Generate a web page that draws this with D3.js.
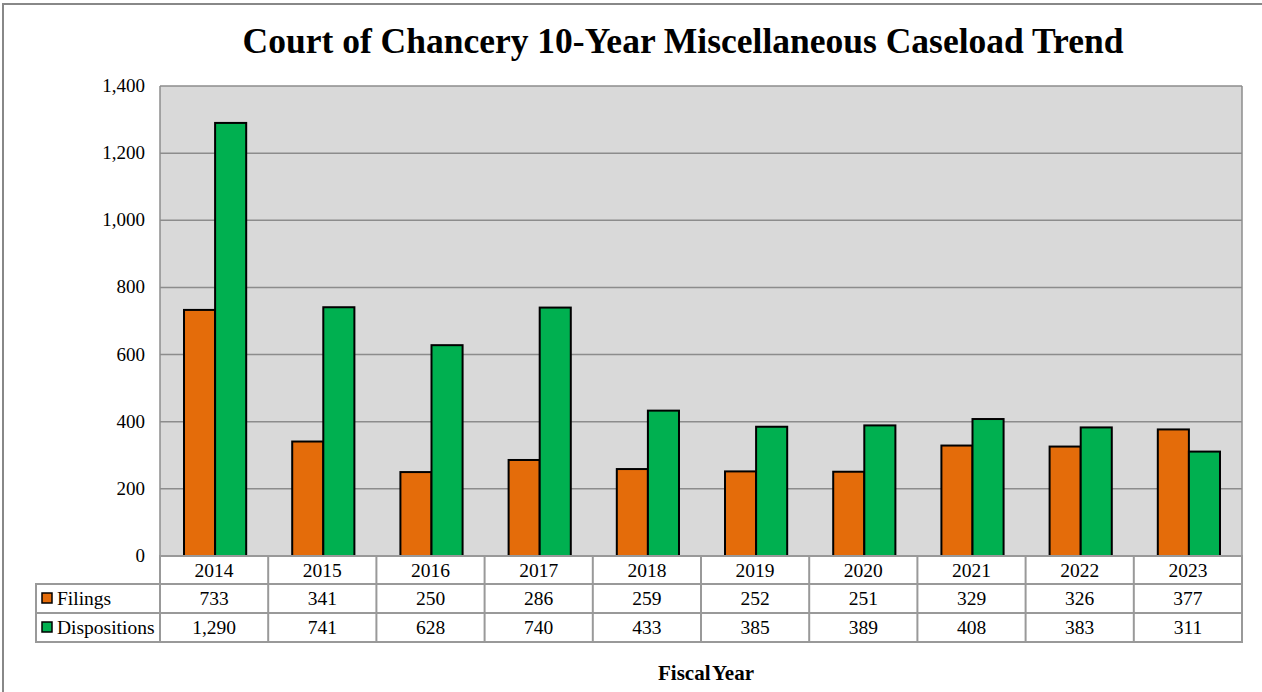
<!DOCTYPE html>
<html><head><meta charset="utf-8">
<script src="https://cdn.jsdelivr.net/npm/d3@7"></script>
<style>body{margin:0;background:#fff;}svg{display:block;}text{font-family:"Liberation Serif","Times New Roman",serif;}</style>
</head><body>
<svg id="c" width="1262" height="692"></svg>
<script>
const years = ["2014","2015","2016","2017","2018","2019","2020","2021","2022","2023"];
const filings = [733,341,250,286,259,252,251,329,326,377];
const dispositions = [1290,741,628,740,433,385,389,408,383,311];
const seriesNames = ["Filings","Dispositions"];
const seriesColors = ["#E46C0A","#00B050"];
const yTicks = [0,200,400,600,800,1000,1200,1400];

const svg = d3.select("#c");
const L = 160, R = 1242, T = 86, B = 556;
const rowH = [28, 29, 29];

svg.append("rect").attr("x",3).attr("y",4).attr("width",1270).attr("height",700)
  .attr("fill","#fff").attr("stroke","#888").attr("stroke-width",2);

svg.append("text").attr("x",683).attr("y",53).attr("text-anchor","middle")
  .attr("font-weight","bold").attr("font-size",35.5)
  .text("Court of Chancery 10-Year Miscellaneous Caseload Trend");

const x = d3.scaleBand().domain(years).range([L,R]).paddingInner(0).paddingOuter(0);
const x1 = d3.scaleBand().domain(seriesNames).range([0,x.bandwidth()]).paddingInner(0).paddingOuter(0.74);
const y = d3.scaleLinear().domain([0,1400]).range([B,T]);

svg.append("rect").attr("x",L).attr("y",T).attr("width",R-L).attr("height",B-T).attr("fill","#D9D9D9");

svg.append("g").selectAll("line").data(yTicks).join("line")
  .attr("x1",L).attr("x2",R).attr("y1",d=>y(d)).attr("y2",d=>y(d))
  .attr("stroke","#8C8C8C").attr("stroke-width",1.5);
svg.append("line").attr("x1",L).attr("x2",L).attr("y1",T).attr("y2",B).attr("stroke","#8C8C8C").attr("stroke-width",1.5);
svg.append("line").attr("x1",R).attr("x2",R).attr("y1",T).attr("y2",B).attr("stroke","#8C8C8C").attr("stroke-width",1.5);

svg.append("g").selectAll("text").data(yTicks).join("text")
  .attr("x",145).attr("y",d=>y(d)+6).attr("text-anchor","end")
  .attr("font-size",19).text(d3.format(","));

const data = [filings, dispositions];
data.forEach((vals,si)=>{
  svg.append("g").selectAll("rect").data(years).join("rect")
    .attr("x",(d)=>x(d)+x1(seriesNames[si])+1)
    .attr("y",(d,i)=>y(vals[i]))
    .attr("width",x1.bandwidth())
    .attr("height",(d,i)=>B-y(vals[i]))
    .attr("fill",seriesColors[si]).attr("stroke","#000").attr("stroke-width",2);
});

const tg = svg.append("g");
const tStroke = "#999", tW = 2;
const r0 = B, r1 = B+rowH[0], r2 = r1+rowH[1], r3 = r2+rowH[2];
const legL = 36;
tg.append("rect").attr("x",L).attr("y",r0).attr("width",R-L).attr("height",rowH[0]).attr("fill","#fff").attr("stroke",tStroke).attr("stroke-width",tW);
tg.append("rect").attr("x",legL).attr("y",r1).attr("width",R-legL).attr("height",r3-r1).attr("fill","#fff").attr("stroke",tStroke).attr("stroke-width",tW);
tg.append("line").attr("x1",legL).attr("x2",R).attr("y1",r2).attr("y2",r2).attr("stroke",tStroke).attr("stroke-width",tW);
tg.append("line").attr("x1",L).attr("x2",L).attr("y1",r0).attr("y2",r3).attr("stroke",tStroke).attr("stroke-width",tW);
tg.selectAll("line.v").data(years.slice(1)).join("line").attr("class","v")
  .attr("x1",d=>x(d)).attr("x2",d=>x(d)).attr("y1",r0).attr("y2",r3).attr("stroke",tStroke).attr("stroke-width",tW);

const cx = d=>x(d)+x.bandwidth()/2;
tg.selectAll("text.yr").data(years).join("text").attr("class","yr")
  .attr("x",cx).attr("y",r0+21).attr("text-anchor","middle").attr("font-size",19.5).text(d=>d);
data.forEach((vals,si)=>{
  const ry = [r1,r2][si];
  tg.append("g").selectAll("text").data(years).join("text")
    .attr("x",cx).attr("y",ry+21).attr("text-anchor","middle").attr("font-size",19.5)
    .text((d,i)=>d3.format(",")(vals[i]));
  tg.append("rect").attr("x",42).attr("y",ry+9).attr("width",10).attr("height",10)
    .attr("fill",seriesColors[si]).attr("stroke","#000").attr("stroke-width",1.5);
  tg.append("text").attr("x",57).attr("y",ry+21).attr("font-size",19.5).text(seriesNames[si]);
});

svg.append("text").attr("x",706).attr("y",680).attr("text-anchor","middle")
  .attr("font-weight","bold").attr("font-size",21).attr("word-spacing",-3).text("Fiscal Year");
</script>
</body></html>
